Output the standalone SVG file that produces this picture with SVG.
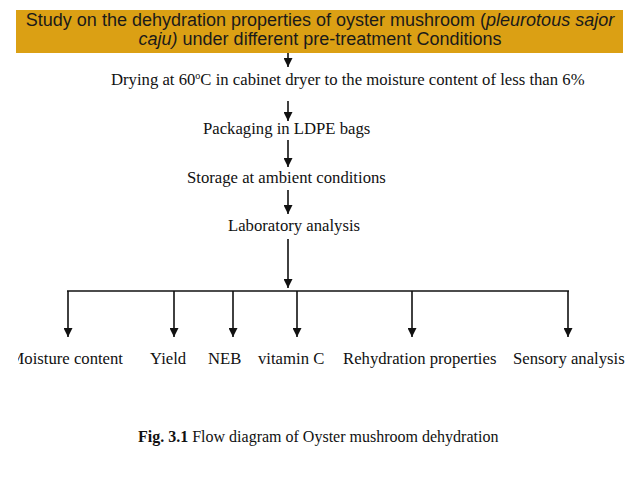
<svg xmlns="http://www.w3.org/2000/svg" width="638" height="479" viewBox="0 0 638 479">
<style>
.t{font-family:"Liberation Serif","Times New Roman",serif;font-size:16.7px;fill:#111}
.cap{font-size:16px}
.h{font-family:"Liberation Sans",Arial,sans-serif;font-size:18px;fill:#1a1a1a}
.c line{stroke:#111;stroke-width:1.6;fill:none}
</style>
<defs>
<marker id="ah" markerWidth="9" markerHeight="9" refX="9" refY="4.5" orient="auto" markerUnits="userSpaceOnUse" viewBox="0 0 9 9">
<path d="M0,0 L9,4.5 L0,9 Z" fill="#111"/>
</marker>
<clipPath id="leftclip"><rect x="18" y="0" width="620" height="479"/></clipPath>
</defs>
<rect width="638" height="479" fill="#fff"/>
<g id="title">
<rect x="16" y="10" width="607" height="43" fill="#DBA014"/>
<text class="h" x="320" y="26" text-anchor="middle">Study on the dehydration properties of oyster mushroom (<tspan font-style="italic">pleurotous sajor</tspan></text>
<text class="h" x="320" y="45" text-anchor="middle"><tspan font-style="italic">caju)</tspan> under different pre-treatment Conditions</text>
</g>
<g id="drying"><text class="t" x="111" y="85">Drying at 60<tspan font-size="10" dy="-6">o</tspan><tspan dy="6">C in cabinet dryer to the moisture content of less than 6%</tspan></text></g>
<g id="packaging"><text class="t" x="203" y="134">Packaging in LDPE bags</text></g>
<g id="storage"><text class="t" x="187" y="183">Storage at ambient conditions</text></g>
<g id="lab"><text class="t" x="228" y="231">Laboratory analysis</text></g>
<g id="moisture" clip-path="url(#leftclip)"><text class="t" x="123" y="364" text-anchor="end">Moisture content</text></g>
<g id="yield"><text class="t" x="150" y="364">Yield</text></g>
<g id="neb"><text class="t" x="208" y="364">NEB</text></g>
<g id="vitc"><text class="t" x="258" y="364">vitamin C</text></g>
<g id="rehyd"><text class="t" x="343" y="364">Rehydration properties</text></g>
<g id="sensory"><text class="t" x="513" y="364">Sensory analysis</text></g>
<g id="caption"><text class="t cap" x="138" y="442"><tspan font-weight="bold">Fig. 3.1</tspan> Flow diagram of Oyster mushroom dehydration</text></g>
<g class="c" id="connectors">
<line x1="288" y1="53" x2="288" y2="67" marker-end="url(#ah)"/>
<line x1="288" y1="101" x2="288" y2="121" marker-end="url(#ah)"/>
<line x1="288" y1="140" x2="288" y2="167" marker-end="url(#ah)"/>
<line x1="288" y1="190" x2="288" y2="214" marker-end="url(#ah)"/>
<line x1="288" y1="239" x2="288" y2="288" marker-end="url(#ah)"/>
<line x1="67" y1="291" x2="569" y2="291"/>
<line x1="68" y1="291" x2="68" y2="337" marker-end="url(#ah)"/>
<line x1="174" y1="291" x2="174" y2="337" marker-end="url(#ah)"/>
<line x1="233" y1="291" x2="233" y2="337" marker-end="url(#ah)"/>
<line x1="297" y1="291" x2="297" y2="337" marker-end="url(#ah)"/>
<line x1="412" y1="291" x2="412" y2="337" marker-end="url(#ah)"/>
<line x1="568" y1="291" x2="568" y2="337" marker-end="url(#ah)"/>
</g>
</svg>
